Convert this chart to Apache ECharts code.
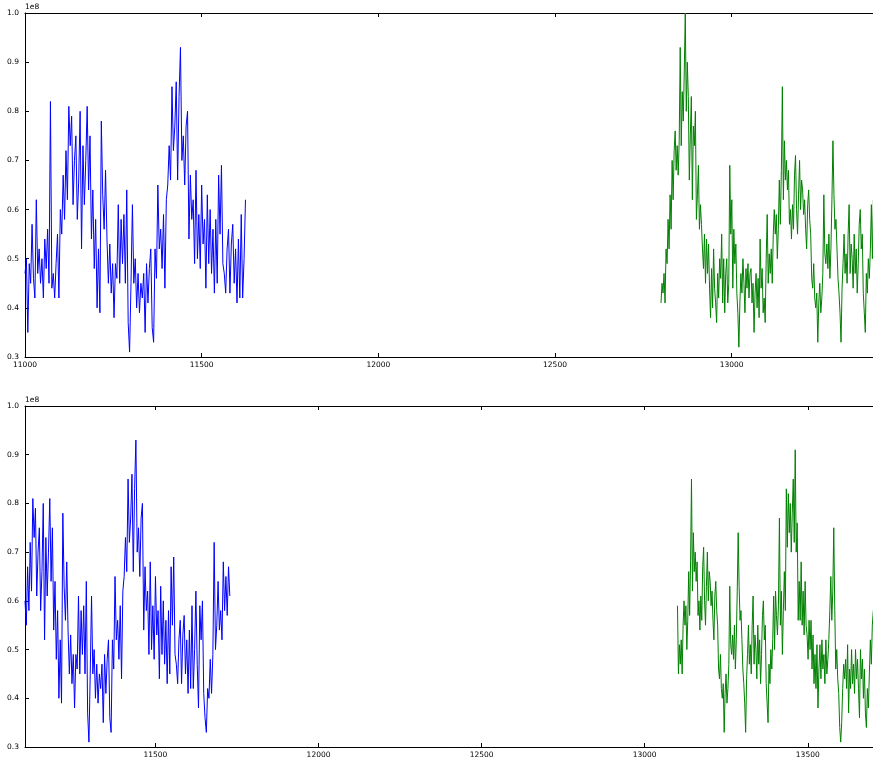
<!DOCTYPE html>
<html><head><meta charset="utf-8">
<script src="https://cdn.jsdelivr.net/npm/echarts@6/dist/echarts.min.js"></script>
<style>html,body{margin:0;padding:0;background:#fff}#c{width:873px;height:759px}</style>
</head><body><div id="c"></div>
<script>
// ---- data (values in units of 1e8) ----
const blueStart = 11000;
const blueStep = 4;
const blueValues = [
0.47,0.50,0.35,0.49,0.45,0.57,0.46,0.42,0.62,0.47,0.52,0.45,0.50,0.42,0.54,0.48,0.56,0.45,0.82,0.44,0.47,0.42,0.49,0.55,0.42,
0.60,0.55,0.67,0.58,0.72,0.62,0.81,0.73,0.79,0.61,0.70,0.75,0.58,0.66,0.80,0.52,0.73,0.61,0.70,0.81,0.64,0.75,0.54,0.64,0.48,
0.58,0.40,0.52,0.39,0.78,0.63,0.56,0.68,0.54,0.45,0.53,0.43,0.49,0.38,0.49,0.46,0.61,0.45,0.58,0.49,0.59,0.45,0.64,0.37,0.31,
0.45,0.61,0.45,0.50,0.40,0.47,0.39,0.45,0.42,0.47,0.35,0.49,0.41,0.48,0.52,0.36,0.33,0.52,0.46,0.65,0.52,0.56,0.48,0.59,0.44,
0.62,0.65,0.73,0.66,0.85,0.72,0.77,0.86,0.66,0.83,0.93,0.70,0.75,0.65,0.77,0.80,0.54,0.67,0.58,0.62,0.49,0.68,0.50,0.59,0.48,
0.65,0.53,0.58,0.44,0.63,0.49,0.60,0.47,0.56,0.43,0.58,0.45,0.67,0.55,0.69,0.49,0.47,0.43,0.52,0.56,0.43,0.53,0.57,0.45,0.52,
0.41,0.54,0.42,0.59,0.42,0.50,0.62,0.47,
0.38,0.59,0.52,0.60,0.41,0.36,0.33,0.42,0.40,0.48,0.41,0.49,0.72,0.50,0.55,0.64,0.54,0.58,0.52,0.68,0.58,0.65,0.57,0.67,0.61
];

const greenAStart = 12800;
const greenAEnd = 13404;
const greenAValues = [
0.41,0.45,0.43,0.47,0.41,0.52,0.49,0.58,0.52,0.63,0.56,0.70,0.62,0.72,0.76,0.68,0.73,0.67,0.74,0.93,0.73,0.84,0.78,0.88,1.0,
0.80,0.90,0.83,0.66,0.75,0.83,0.62,0.77,0.73,0.80,0.58,0.63,0.69,0.56,0.61,0.57,0.52,0.48,0.55,0.45,0.54,0.47,0.53,0.44,0.38,
0.48,0.40,0.52,0.44,0.41,0.37,0.47,0.42,0.50,0.46,0.55,0.41,0.50,0.39,0.47,0.50,0.41,0.45,0.69,0.55,0.62,0.44,0.56,0.49,0.53,
0.43,0.39,0.32,0.41,0.47,0.43,0.50,0.45,0.39,0.48,0.44,0.49,0.42,0.47,0.48,0.41,0.45,0.35,0.43,0.47,0.40,0.46,0.38,0.54,0.44,
0.48,0.39,0.42,0.37,0.50,0.59,0.45,0.51,0.47,0.52,0.45,0.55,0.60,0.55,0.59,0.50,0.56,0.66,0.57,0.68,0.85,0.62,0.74,0.66,0.70,
0.64,0.68,0.57,0.60,0.54,0.61,0.56,0.67,0.71,0.60,0.55,0.63,0.70,0.60,0.66,0.64,0.59,0.62,0.56,0.52,0.61,0.64,0.58,0.55,0.46,
0.44,0.49,0.42,0.40,0.43,0.33,0.41,0.45,0.39,0.42,0.47,0.63,0.51,0.49,0.53,0.48,0.55,0.46,0.52,0.62,0.74,0.63,0.56,0.58,0.52,
0.46,0.43,0.39,0.33,0.44,0.49,0.55,0.47,0.51,0.45,0.55,0.61,0.47,0.53,0.50,0.44,0.55,0.47,0.52,0.43,0.49,0.57,0.60,0.52,0.55,
0.43,0.39,0.35,0.47,0.43,0.50,0.46,0.52,0.61,0.50,0.62,0.57
];

const greenBStart = 13407;
const greenBEnd = 13704;
const greenBValues = [
0.53,0.59,0.77,0.55,0.62,0.49,0.58,0.66,0.58,0.83,0.71,0.82,0.74,0.80,0.70,0.78,0.85,0.72,0.91,0.70,0.76,0.56,0.64,0.56,0.68,
0.55,0.62,0.53,0.64,0.55,0.53,0.48,0.56,0.50,0.56,0.46,0.53,0.43,0.49,0.42,0.51,0.38,0.46,0.51,0.44,0.52,0.46,0.49,0.43,0.52,
0.45,0.48,0.52,0.58,0.65,0.56,0.62,0.75,0.58,0.46,0.50,0.44,0.41,0.34,0.31,0.35,0.42,0.47,0.44,0.48,0.42,0.51,0.37,0.46,0.42,
0.50,0.43,0.47,0.41,0.50,0.44,0.48,0.42,0.36,0.50,0.44,0.48,0.40,0.46,0.37,0.34,0.42,0.38,0.45,0.52,0.47,0.55,0.58,0.57
];

const topXTicks = [11000, 11500, 12000, 12500, 13000];
const bottomXTicks = [11500, 12000, 12500, 13000, 13500];
const yTicks = [0.3, 0.4, 0.5, 0.6, 0.7, 0.8, 0.9, 1.0];
const offsetText = '1e8';

// panel windows (data shown in each subplot)
const topXRange = [11000, 13400];
const bottomXRange = [11100, 13700];
const topBlueWindow = [11000, 11627];
const bottomBlueWindow = [11100, 11730];
const topGreenWindow = [12800, 13420];
const bottomGreenWindow = [13099, 13710];
const yRange = [0.3, 1.0];

// ---- build ----
function pts(start, step, vals) { return vals.map((v, i) => [start + i * step, v]); }
const bluePts = pts(blueStart, blueStep, blueValues);
const greenPts = pts(greenAStart, (greenAEnd - greenAStart) / (greenAValues.length - 1), greenAValues)
  .concat(pts(greenBStart, (greenBEnd - greenBStart) / (greenBValues.length - 1), greenBValues));
function win(p, w) { return p.filter(d => d[0] >= w[0] && d[0] <= w[1]); }

const FONT = 'DejaVu Sans';
const FS = 7.5;

function xAxis(grid, range, ticks, pos) {
  const top = pos === 'top';
  return {
    type: 'value', gridIndex: grid, position: pos, min: range[0], max: range[1],
    axisLine: { show: true, onZero: false, lineStyle: { color: '#000', width: 1 } },
    axisTick: { show: true, inside: true, length: 4, customValues: ticks, lineStyle: { color: '#000' } },
    axisLabel: { show: !top, customValues: ticks, formatter: v => String(v), color: '#000',
                 fontFamily: FONT, fontSize: FS, margin: 4 },
    splitLine: { show: false }
  };
}
function yAxis(grid) {
  return {
    type: 'value', gridIndex: grid, position: 'left', min: yRange[0], max: yRange[1],
    axisLine: { show: true, onZero: false, lineStyle: { color: '#000', width: 1 } },
    axisTick: { show: true, inside: true, length: 4, customValues: yTicks, lineStyle: { color: '#000' } },
    axisLabel: { customValues: yTicks, formatter: v => v.toFixed(1), color: '#000',
                 fontFamily: FONT, fontSize: FS, margin: 6 },
    splitLine: { show: false }
  };
}
function line(xi, yi, data, color) {
  return { type: 'line', xAxisIndex: xi, yAxisIndex: yi, data: data, showSymbol: false, symbol: 'none',
           clip: true, lineStyle: { color: color, width: 1 }, itemStyle: { color: color }, animation: false };
}

const chart = echarts.init(document.getElementById('c'), null, { renderer: 'canvas' });
chart.setOption({
  backgroundColor: '#fff',
  animation: false,
  grid: [
    { left: 25, top: 13, width: 848, height: 344 },
    { left: 25, top: 406, width: 848, height: 343 }
  ],
  xAxis: [
    xAxis(0, topXRange, topXTicks, 'bottom'),
    xAxis(1, bottomXRange, bottomXTicks, 'bottom'),
    xAxis(0, topXRange, topXTicks, 'top'),
    xAxis(1, bottomXRange, bottomXTicks, 'top')
  ],
  yAxis: [yAxis(0), yAxis(1)],
  graphic: [
    { type: 'text', left: 25, top: 3, style: { text: offsetText, fontFamily: FONT, fontSize: FS, fill: '#000' } },
    { type: 'text', left: 25, top: 396, style: { text: offsetText, fontFamily: FONT, fontSize: FS, fill: '#000' } }
  ],
  series: [
    line(0, 0, win(bluePts, topBlueWindow), '#0000ff'),
    line(0, 0, win(greenPts, topGreenWindow), '#008000'),
    line(1, 1, win(bluePts, bottomBlueWindow), '#0000ff'),
    line(1, 1, win(greenPts, bottomGreenWindow), '#008000')
  ]
});
</script>
</body></html>
